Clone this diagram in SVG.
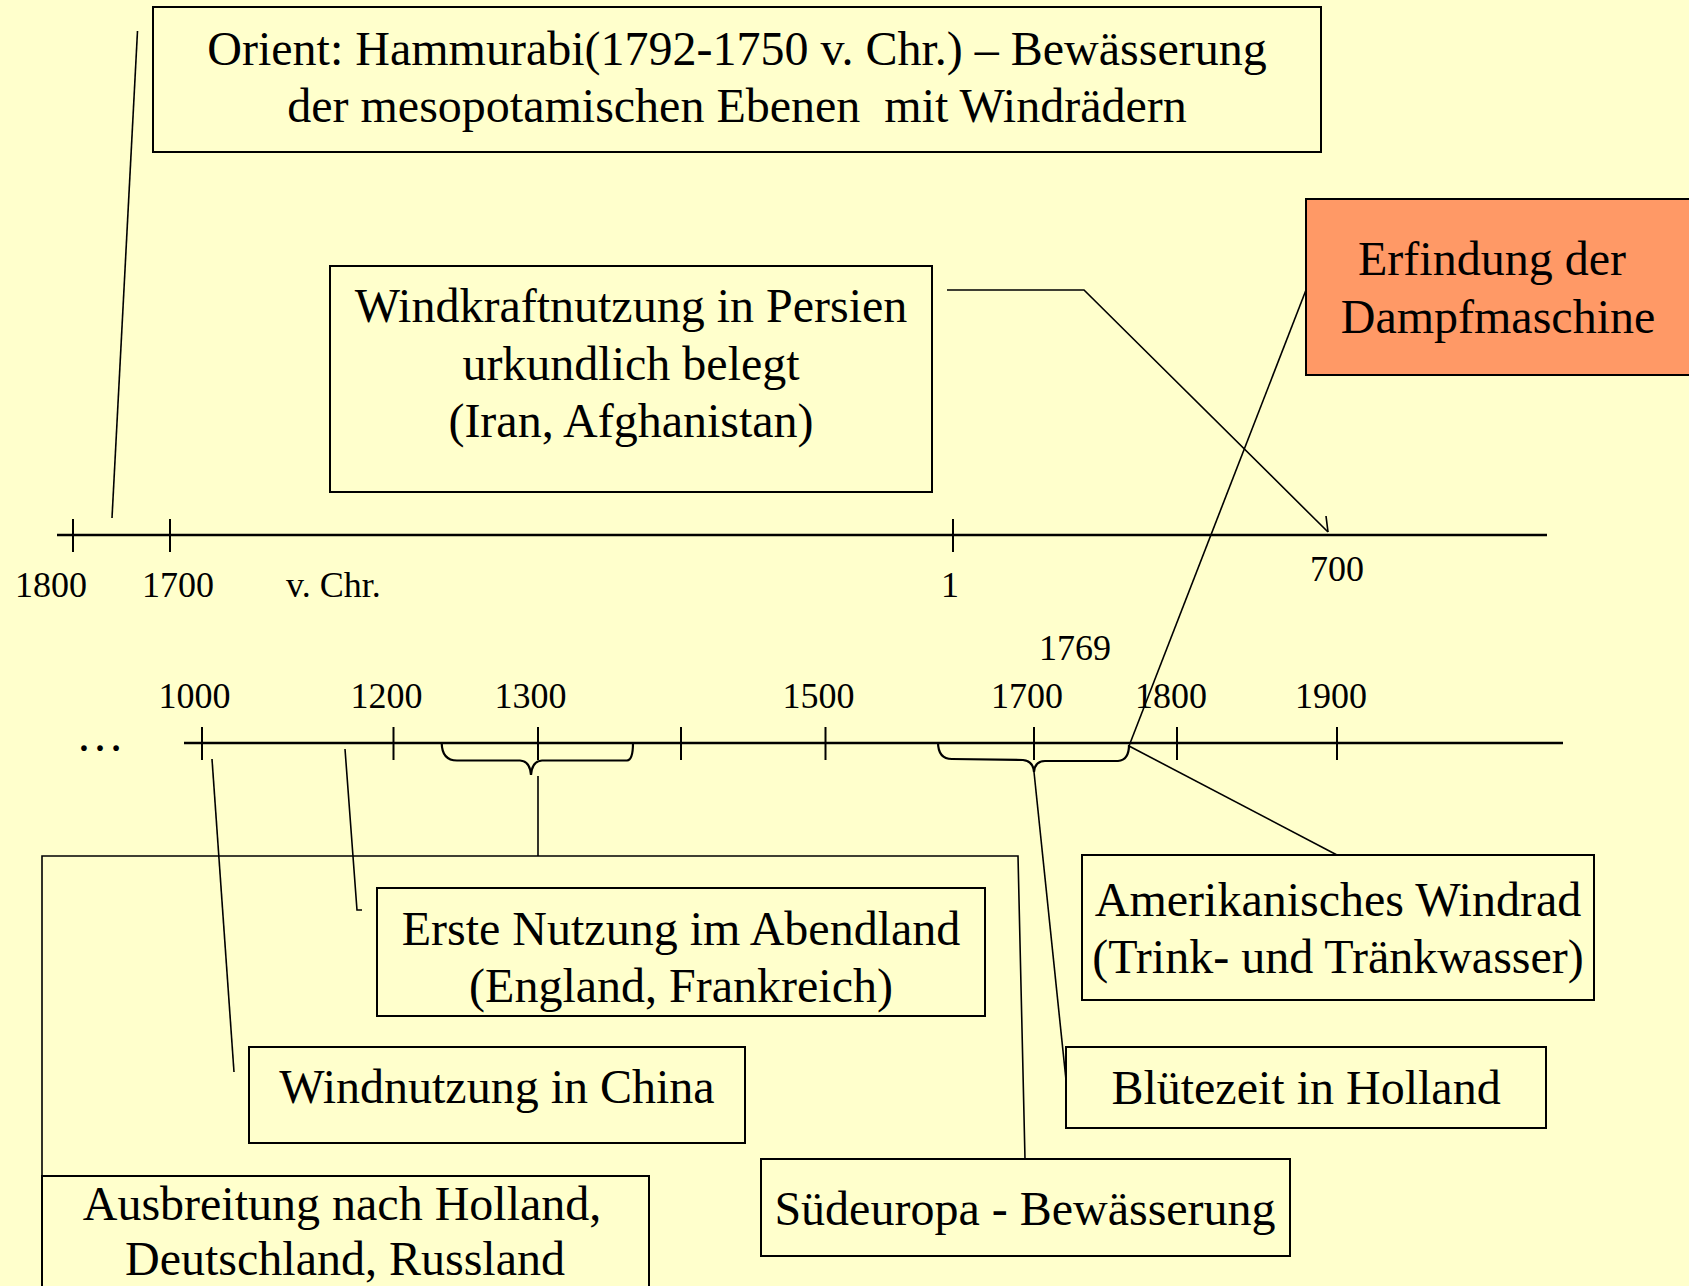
<svg xmlns="http://www.w3.org/2000/svg" width="1689" height="1286" viewBox="0 0 1689 1286">
<style>
.box{fill:none;stroke:#000;stroke-width:2}
.t{font-family:"Liberation Serif","Times New Roman",serif;font-size:48px;fill:#000;text-anchor:middle;white-space:pre}
.lbl{font-family:"Liberation Serif","Times New Roman",serif;font-size:36px;fill:#000;text-anchor:middle}
.axis{stroke:#000;stroke-width:2.5;fill:none}
.tick{stroke:#000;stroke-width:2;fill:none}
.conn{stroke:#000;stroke-width:1.6;fill:none}
.brace{stroke:#000;stroke-width:2.2;fill:none}
</style>
<rect x="0" y="0" width="1689" height="1286" fill="#FFFFCC"/>

<g id="axes">
<line class="axis" x1="57" y1="535" x2="1547" y2="535"/>
<line class="tick" x1="73" y1="519" x2="73" y2="552"/>
<line class="tick" x1="170" y1="519" x2="170" y2="552"/>
<line class="tick" x1="953" y1="519" x2="953" y2="552"/>
<text class="lbl" x="51" y="597">1800</text>
<text class="lbl" x="178" y="597">1700</text>
<text class="lbl" x="286" y="597" style="text-anchor:start">v. Chr.</text>
<text class="lbl" x="950" y="597">1</text>
<text class="lbl" x="1337" y="581">700</text>

<line class="axis" x1="184" y1="743" x2="1563" y2="743"/>
<line class="tick" x1="202" y1="727" x2="202" y2="760"/>
<line class="tick" x1="393.5" y1="727" x2="393.5" y2="760"/>
<line class="tick" x1="538" y1="727" x2="538" y2="760"/>
<line class="tick" x1="681" y1="727" x2="681" y2="760"/>
<line class="tick" x1="825.5" y1="727" x2="825.5" y2="760"/>
<line class="tick" x1="1034" y1="727" x2="1034" y2="760"/>
<line class="tick" x1="1177" y1="727" x2="1177" y2="760"/>
<line class="tick" x1="1337" y1="727" x2="1337" y2="760"/>
<text class="lbl" x="194.5" y="708">1000</text>
<text class="lbl" x="386.5" y="708">1200</text>
<text class="lbl" x="530.5" y="708">1300</text>
<text class="lbl" x="818.5" y="708">1500</text>
<text class="lbl" x="1027" y="708">1700</text>
<text class="lbl" x="1075" y="660">1769</text>
<text class="lbl" x="1171" y="708">1800</text>
<text class="lbl" x="1331" y="708">1900</text>
<text class="t" x="100" y="751">…</text>
</g>

<g id="connectors">
<line class="conn" x1="137.5" y1="31" x2="112" y2="518"/>
<polyline class="conn" points="947,290 1084,290 1328,532"/>
<line class="conn" x1="1326" y1="516" x2="1328" y2="532"/>
<line class="conn" x1="1306" y1="290" x2="1129" y2="746"/>
<path class="brace" d="M441.7,743 Q442,760.5 457,760.5 L520,760.5 Q530,761 531,775 Q532,761 542,760.5 L627,760.5 Q633,760 633,743"/>
<line class="conn" x1="538" y1="776" x2="538" y2="856"/>
<polyline class="conn" points="42,1176 42,856 1018,856 1025,1159"/>
<path class="brace" d="M938,742 Q938,759 952,759 L1023,760 Q1033,761 1034,772 Q1035,761 1045,761 L1118,761 Q1129,760 1129,745"/>
<line class="conn" x1="1034" y1="772" x2="1066" y2="1080"/>
<line class="conn" x1="1129" y1="746" x2="1337" y2="855"/>
<polyline class="conn" points="345,749 357,910 362,910"/>
<line class="conn" x1="212" y1="759" x2="234" y2="1072"/>
</g>

<g id="orient">
<rect class="box" x="153" y="7" width="1168" height="145"/>
<text class="t" x="737" y="65">Orient: Hammurabi(1792-1750 v. Chr.) – Bewässerung</text>
<text class="t" x="737" y="122">der mesopotamischen Ebenen  mit Windrädern</text>
</g>

<g id="persien">
<rect class="box" x="330" y="266" width="602" height="226"/>
<text class="t" x="631" y="322">Windkraftnutzung in Persien</text>
<text class="t" x="631" y="380">urkundlich belegt</text>
<text class="t" x="631" y="437">(Iran, Afghanistan)</text>
</g>

<g id="dampfmaschine">
<rect x="1306" y="199" width="400" height="176" fill="#FF9966" stroke="#000" stroke-width="2"/>
<text class="t" x="1492" y="275">Erfindung der</text>
<text class="t" x="1498" y="333">Dampfmaschine</text>
</g>

<g id="abendland">
<rect class="box" x="377" y="888" width="608" height="128"/>
<text class="t" x="681" y="945">Erste Nutzung im Abendland</text>
<text class="t" x="681" y="1002">(England, Frankreich)</text>
</g>

<g id="china">
<rect class="box" x="249" y="1047" width="496" height="96"/>
<text class="t" x="497" y="1103">Windnutzung in China</text>
</g>

<g id="ausbreitung">
<rect class="box" x="42" y="1176" width="607" height="130"/>
<text class="t" x="342" y="1220">Ausbreitung nach Holland,</text>
<text class="t" x="345" y="1275">Deutschland, Russland</text>
</g>

<g id="suedeuropa">
<rect class="box" x="761" y="1159" width="529" height="97"/>
<text class="t" x="1025" y="1225">Südeuropa - Bewässerung</text>
</g>

<g id="holland">
<rect class="box" x="1066" y="1047" width="480" height="81"/>
<text class="t" x="1306" y="1104">Blütezeit in Holland</text>
</g>

<g id="amerika">
<rect class="box" x="1082" y="855" width="512" height="145"/>
<text class="t" x="1338" y="916">Amerikanisches Windrad</text>
<text class="t" x="1338" y="973">(Trink- und Tränkwasser)</text>
</g>
</svg>
